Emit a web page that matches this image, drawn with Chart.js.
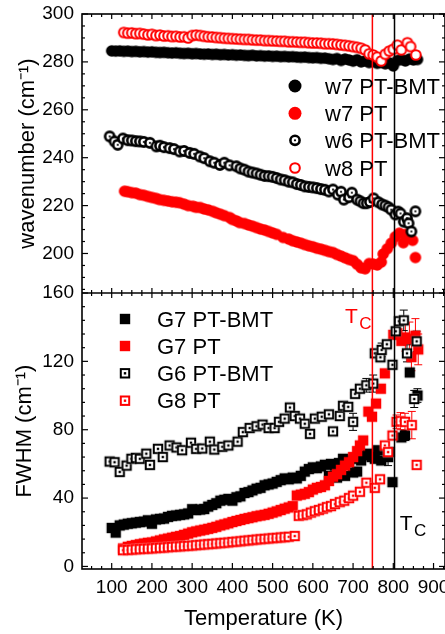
<!DOCTYPE html>
<html><head><meta charset="utf-8">
<script src="https://cdn.jsdelivr.net/npm/chart.js@4.4.1/dist/chart.umd.min.js"></script>
<style>html,body{margin:0;padding:0;background:#fff;overflow:hidden}canvas{display:block}</style>
</head><body>
<canvas id="c" width="445" height="634"></canvas>
<script>
// ---------------- data ----------------
const xTicks = [100,200,300,400,500,600,700,800,900];
const wTicks = [200,220,240,260,280,300];
const fTicks = [0,40,80,120,160];
const labelsTop = ['w7 PT-BMT','w7 PT','w6 PT-BMT','w8 PT'];
const labelsBottom = ['G7 PT-BMT','G7 PT','G6 PT-BMT','G8 PT'];
const tcPT = 748, tcBMT = 803;

const w7BmtT = [100,110,120,130,140,150,160,170,180,190,200,210,220,230,240,250,260,270,280,290,300,310,320,330,340,350,360,370,380,390,400,410,420,430,440,450,460,470,480,490,500,510,520,530,540,550,560,570,580,590,600,610,620,630,640,650,660,670,680,690,700,710,720,730,740,750,760,770,780,790,800,810,820,830,840,850,860];
const w7BmtV = [284.6,284.5,284.6,284.4,284.5,284.3,284.4,284.2,284.3,284.1,284.2,284.0,283.9,284.0,283.8,283.7,283.8,283.6,283.5,283.6,283.4,283.5,283.3,283.2,283.3,283.1,283.2,283.0,283.1,282.9,283.0,282.8,282.9,282.7,282.6,282.8,282.5,282.6,282.4,282.5,282.3,282.4,282.2,282.3,282.1,282.2,282.0,281.9,282.0,281.8,281.7,281.8,281.5,281.6,281.3,281.0,281.4,280.6,281.2,280.8,280.3,280.9,280.0,280.4,279.7,280.2,279.4,279.8,279.2,279.6,278.3,280.6,281.0,280.4,281.2,280.8,281.0];

const w7PtT = [132,140,150,160,170,180,190,200,210,219,230,240,250,260,269,280,290,302,310,320,330,340,351,360,370,380,393,400,410,418,430,440,450,460,470,480,490,500,510,526,540,550,560,570,580,590,600,610,620,630,640,650,660,670,680,690,700,710,720,730,740,750,760,770,775,785,795,805,815,825,830,838,848,855];
const w7PtV = [226.0,225.8,225.4,225.2,224.6,224.3,223.8,223.4,223.0,222.5,222.2,221.9,221.6,221.4,221.2,220.6,220.0,219.7,219.3,219.2,218.6,218.2,217.6,217.0,216.4,215.8,215.0,214.2,213.6,212.9,212.5,211.9,211.4,210.8,210.2,209.8,209.2,208.6,208.0,206.7,206.0,205.3,204.8,204.3,203.7,203.2,202.8,202.2,201.8,201.3,200.8,200.4,199.6,198.9,198.2,197.5,197.0,195.5,194.0,193.6,195.8,195.6,195.2,196.4,199.8,202.0,204.3,207.0,208.5,204.5,208.0,207.0,205.5,198.3];

const w6BmtT = [95,107,115,128,140,150,160,170,180,195,211,220,230,244,255,269,280,294,305,319,330,344,355,369,380,393,410,420,430,440,450,460,470,480,490,500,510,520,530,540,550,560,570,580,590,600,610,620,630,640,650,662,670,677,690,697,710,718,726,734,742,751,763,772,780,788,795,805,812,818,826,834,838,845,855];
const w6BmtV = [248.9,246.8,245.4,248.0,247.3,247.2,246.9,246.8,246.6,246.2,244.7,245.0,244.4,244.0,243.6,242.6,242.8,242.0,241.6,240.5,239.8,238.5,237.9,237.0,237.9,236.8,236.4,235.5,235.0,234.2,233.8,233.4,232.9,232.4,232.3,232.0,231.5,230.9,230.6,230.0,229.7,229.0,228.6,228.0,227.8,227.6,227.3,226.9,226.6,225.9,226.7,224.6,225.8,222.5,223.5,225.4,222.5,221.8,221.0,221.0,221.5,223.0,221.4,220.5,220.0,219.3,218.3,216.3,217.5,216.7,213.3,214.7,212.6,209.2,217.6];

const w8PtT = [130,140,150,160,170,180,190,200,210,220,230,240,250,260,270,280,290,300,310,320,330,340,350,360,370,380,390,400,410,420,430,440,450,460,470,480,490,500,510,520,530,540,550,560,570,580,590,600,610,620,630,640,650,660,670,680,690,700,710,720,730,740,750,760,770,780,790,800,810,820,835,843,856];
const w8PtV = [292.3,292.0,292.1,291.8,291.9,291.6,291.3,291.5,291.0,291.2,290.8,290.9,290.6,290.7,290.4,290.5,290.0,291.0,291.2,291.0,290.7,290.5,290.4,290.2,290.1,289.9,289.8,289.7,289.6,289.5,289.4,289.4,289.2,289.1,289.1,288.9,288.9,288.8,288.7,288.6,288.6,288.4,288.4,288.3,288.2,288.2,288.0,287.9,287.9,287.8,287.6,287.6,287.5,287.3,287.1,286.9,286.7,286.4,286.1,285.7,285.0,283.4,282.9,282.0,280.4,283.2,284.5,285.3,287.0,285.0,288.0,286.4,282.9];

const g7BmtT = [100,110,120,130,140,150,160,170,180,190,200,210,220,230,240,250,260,270,280,290,300,310,320,330,340,350,360,370,380,390,400,410,420,430,440,450,460,470,480,490,500,510,520,530,540,550,560,570,580,590,600,610,620,630,640,645,655,660,665,675,680,690,700,705,710,720,729,737,746,754,762,770,787,790,798,820,829,841,860];
const g7BmtV = [22.5,19.8,24.0,24.5,25.0,25.3,25.6,26.0,26.2,27.0,25.0,27.5,27.8,28.0,29.0,29.6,29.8,30.2,30.5,31.0,33.5,33.0,33.3,33.6,35.0,36.0,37.0,38.5,39.0,39.5,38.5,40.5,41.0,43.0,43.5,44.5,45.5,46.0,47.5,48.0,48.5,49.5,50.5,51.5,51.0,52.0,51.5,53.0,55.5,57.0,58.0,57.5,58.5,59.5,53.0,60.0,59.0,52.0,60.5,63.0,53.0,62.0,55.0,63.0,55.5,62.0,65.0,66.0,64.0,63.0,68.0,62.0,64.0,67.0,49.3,75.5,76.7,113.5,100.0];
const g7BmtErrT = [787,829,860];
const g7BmtErrV = [5,3,4];

const g7PtT = [128,140,150,160,170,180,190,200,210,220,230,240,250,260,270,280,290,300,310,320,330,340,350,360,370,380,390,400,410,420,430,440,450,460,470,480,490,500,510,520,530,540,550,560,570,580,590,600,610,620,630,640,650,660,670,680,690,700,710,717,725,738,747,757,769,779,800,810,820,830,840,845,855,862];
const g7PtV = [10.5,11.5,12.0,12.5,13.0,13.4,13.8,14.0,14.6,15.2,15.8,16.3,16.8,17.3,17.8,18.5,19.2,20.0,20.5,21.0,21.5,22.0,22.6,23.2,24.0,24.6,25.2,26.0,26.6,27.2,27.8,28.3,28.8,29.4,29.8,30.2,30.8,31.5,32.2,33.0,33.8,34.5,35.3,41.5,42.0,42.5,43.5,45.0,46.0,46.5,47.5,50.0,52.5,54.0,56.5,59.0,61.0,64.0,67.5,70.8,73.7,90.6,87.6,95.3,104.0,113.0,135.5,136.5,132.0,134.0,133.0,122.5,135.0,127.0];
const g7PtErrT = [830,840,845,855,862];
const g7PtErrV = [8,10,8,10,9];

const g6BmtT = [95,107,120,137,149,160,170,186,195,215,227,244,261,275,297,310,325,344,355,375,390,413,426,443,460,475,490,505,516,530,543,555,568,580,593,605,622,640,650,667,675,688,700,705,717,733,750,754,768,771,784,798,806,814,826,834,852,858];
const g6BmtV = [61.4,61.0,55.3,59.0,63.0,63.5,63.0,66.0,59.4,68.8,64.0,70.8,69.6,68.0,72.4,68.8,69.0,73.0,68.4,70.0,70.8,73.0,78.6,81.0,82.0,83.0,81.0,81.0,84.6,86.5,93.0,88.0,86.5,83.5,77.6,86.5,87.6,89.0,79.0,88.0,94.0,93.4,84.6,101.0,104.0,106.0,107.0,124.7,122.4,126.7,130.0,118.0,137.6,143.5,144.0,124.7,98.0,131.7];
const g6BmtErrT = [700,733,750,771,826,834,852,858];
const g6BmtErrV = [5,4,5,4,6,5,5,6];

const g8PtT = [128,140,150,160,170,180,190,200,210,220,230,240,250,260,270,280,290,300,310,320,330,340,350,360,370,380,390,400,410,420,430,440,450,460,470,480,490,500,510,520,530,540,555,565,575,585,595,605,615,625,635,645,655,667,678,690,700,717,733,754,767,779,787,798,808,818,829,846,858];
const g8PtV = [9.5,9.6,9.8,10.0,10.1,10.3,10.4,10.5,10.7,10.9,11.0,11.2,11.4,11.6,11.7,11.9,12.0,12.2,12.4,12.6,12.8,13.0,13.2,13.4,13.6,13.8,14.0,14.3,14.5,14.7,15.0,15.2,15.4,15.7,15.9,16.1,16.3,16.5,16.7,16.9,17.1,17.3,17.8,29.6,30.0,30.5,31.5,32.3,33.0,33.8,34.7,35.3,36.5,37.6,38.5,40.0,41.4,43.7,49.0,46.0,51.0,70.8,66.9,76.6,84.6,85.0,84.6,82.7,59.4];
const g8PtErrT = [808,818,829,846];
const g8PtErrV = [4,5,5,8];

// ---------------- drawing helpers ----------------
const FONT = "'Liberation Sans', Arial, Helvetica, sans-serif";
const RED = '#ff0000', BLK = '#000000';

function drawMarker(g, type, col, x, y, s) {
  g.save();
  if (type === 'disc') {
    g.fillStyle = col; g.beginPath(); g.arc(x, y, 5.8 * s, 0, 2 * Math.PI); g.fill();
  } else if (type === 'ring') {
    g.fillStyle = '#fff'; g.strokeStyle = col; g.lineWidth = 2.1;
    g.beginPath(); g.arc(x, y, 4.8 * s, 0, 2 * Math.PI); g.fill(); g.stroke();
  } else if (type === 'ringdot') {
    g.fillStyle = '#fff'; g.strokeStyle = col; g.lineWidth = 2.6;
    g.beginPath(); g.arc(x, y, 4.6 * s, 0, 2 * Math.PI); g.fill(); g.stroke();
    g.fillStyle = col; g.beginPath(); g.arc(x, y, 1.1, 0, 2 * Math.PI); g.fill();
  } else if (type === 'square') {
    const h = 5.2 * s; g.fillStyle = col; g.fillRect(x - h, y - h, 2 * h, 2 * h);
  } else if (type === 'sqdot') {
    const h = 5.2 * s; g.fillStyle = '#fff'; g.fillRect(x - h, y - h, 2 * h, 2 * h);
    g.strokeStyle = col; g.lineWidth = 2; g.strokeRect(x - h + 1, y - h + 1, 2 * h - 2, 2 * h - 2);
    g.fillStyle = col; g.fillRect(x - 1.2, y - 1.2, 2.4, 2.4);
  }
  g.restore();
}
function markerImage(type, col) {
  const c = document.createElement('canvas'); c.width = 16; c.height = 16;
  drawMarker(c.getContext('2d'), type, col, 8, 8, 1);
  return c;
}
function pts(T, V, eT, eV) {
  return T.map((t, i) => {
    const k = eT ? eT.indexOf(t) : -1;
    return {x: t, y: V[i], e: k >= 0 ? eV[k] : 0};
  });
}

const topStyles = [['disc', BLK], ['disc', RED], ['ringdot', BLK], ['ring', RED]];
const botStyles = [['square', BLK], ['square', RED], ['sqdot', BLK], ['sqdot', RED]];

function ds(label, data, axis, st, order) {
  return {label, data, yAxisID: axis, pointStyle: markerImage(st[0], st[1]), pointRadius: 5,
          borderColor: st[1], backgroundColor: st[1], order, errColor: st[1]};
}

const datasets = [
  ds(labelsTop[0], pts(w7BmtT, w7BmtV), 'yT', topStyles[0], 7),
  ds(labelsTop[1], pts(w7PtT, w7PtV), 'yT', topStyles[1], 6),
  ds(labelsTop[2], pts(w6BmtT, w6BmtV), 'yT', topStyles[2], 5),
  ds(labelsTop[3], pts(w8PtT, w8PtV), 'yT', topStyles[3], 4),
  ds(labelsBottom[0], pts(g7BmtT, g7BmtV, g7BmtErrT, g7BmtErrV), 'yB', botStyles[0], 3),
  ds(labelsBottom[1], pts(g7PtT, g7PtV, g7PtErrT, g7PtErrV), 'yB', botStyles[1], 2),
  ds(labelsBottom[2], pts(g6BmtT, g6BmtV, g6BmtErrT, g6BmtErrV), 'yB', botStyles[2], 1),
  ds(labelsBottom[3], pts(g8PtT, g8PtV, g8PtErrT, g8PtErrV), 'yB', botStyles[3], 0)
];

function seg(ctx, x1, y1, x2, y2) { ctx.beginPath(); ctx.moveTo(x1, y1); ctx.lineTo(x2, y2); ctx.stroke(); }

const deco = {
  id: 'deco',
  beforeDatasetsDraw(chart) {
    const ctx = chart.ctx;
    ctx.save(); ctx.lineWidth = 1;
    chart.data.datasets.forEach(d => {
      const ys = chart.scales[d.yAxisID], xs = chart.scales.x;
      ctx.strokeStyle = d.errColor;
      d.data.forEach(p => {
        if (!p.e) return;
        const px = xs.getPixelForValue(p.x);
        const y1 = ys.getPixelForValue(p.y + p.e), y2 = ys.getPixelForValue(p.y - p.e);
        seg(ctx, px, y1, px, y2); seg(ctx, px - 4, y1, px + 4, y1); seg(ctx, px - 4, y2, px + 4, y2);
      });
    });
    ctx.restore();
  },
  afterDatasetsDraw(chart) {
    const {ctx, chartArea: a, scales} = chart;
    const xs = scales.x, yT = scales.yT, yB = scales.yB;
    ctx.save();
    ctx.lineWidth = 1.5;
    [[tcPT, RED], [tcBMT, BLK]].forEach(([t, c]) => {
      const px = xs.getPixelForValue(t); ctx.strokeStyle = c; seg(ctx, px, a.top, px, a.bottom);
    });
    ctx.strokeStyle = BLK; ctx.lineWidth = 1.6;
    ctx.strokeRect(a.left, a.top, a.right - a.left, a.bottom - a.top);
    const mid = yB.top;
    seg(ctx, a.left, mid, a.right, mid);
    ctx.lineWidth = 1.2;
    for (let t = 25; t <= 950; t += 25) {
      const px = xs.getPixelForValue(t);
      if (px <= a.left + 1 || px >= a.right - 1) continue;
      const major = xTicks.includes(t);
      seg(ctx, px, a.top, px, a.top + (major ? 5 : 3));
      seg(ctx, px, mid - (major ? 5 : 3), px, mid + (major ? 5 : 3));
      seg(ctx, px, a.bottom, px, a.bottom - (major ? 6 : 3));
    }
    const yt = (s, from, to, step, majors) => {
      for (let v = from; v <= to + 1e-6; v += step) {
        const py = s.getPixelForValue(v);
        if (py < s.top - 0.5 || py > s.bottom + 0.5) continue;
        const L = majors.includes(v) ? 6 : 3;
        seg(ctx, a.left, py, a.left + L, py);
        seg(ctx, a.right, py, a.right - L, py);
      }
    };
    yt(yT, 185, 300, 5, wTicks);
    yt(yB, 0, 160, 8, fTicks);

    // legends
    ctx.textAlign = 'left'; ctx.textBaseline = 'alphabetic';
    ctx.font = '22px ' + FONT;
    const topRows = [86, 113.3, 140.3, 168];
    labelsTop.forEach((lab, i) => {
      const st = topStyles[i];
      drawMarker(ctx, st[0], st[1], 295, topRows[i], st[0] === 'disc' ? 1.12 : 1.0);
      ctx.fillStyle = BLK; ctx.fillText(lab, 325, topRows[i] + 8);
    });
    const botRows = [319, 346, 373.3, 400.7];
    labelsBottom.forEach((lab, i) => {
      const st = botStyles[i];
      drawMarker(ctx, st[0], st[1], 125, botRows[i], 1);
      ctx.fillStyle = BLK; ctx.fillText(lab, 157, botRows[i] + 7.6);
    });
    // Tc labels
    const tc = (col, t, v) => {
      const px = xs.getPixelForValue(t), py = yB.getPixelForValue(v);
      ctx.fillStyle = col; ctx.font = '21px ' + FONT; ctx.fillText('T', px, py);
      const w = ctx.measureText('T').width;
      ctx.font = '17px ' + FONT; ctx.fillText('C', px + w + 1.5, py + 6);
    };
    tc(RED, 680, 142.3);
    tc(BLK, 816, 21.5);
    ctx.restore();
  }
};

const tickFont = {family: FONT, size: 19};
const titleFont = {family: FONT, size: 22};

new Chart(document.getElementById('c'), {
  type: 'scatter',
  data: {datasets},
  plugins: [deco],
  options: {
    responsive: false, animation: false, events: [],
    layout: {padding: {top: 14, left: 0, right: 0, bottom: 0}, autoPadding: false},
    plugins: {legend: {display: false}, tooltip: {enabled: false}},
    scales: {
      x: {
        type: 'linear', position: 'bottom', min: 26.2, max: 928.5,
        grid: {display: false, drawTicks: false}, border: {display: false},
        ticks: {color: BLK, font: tickFont, padding: 7, autoSkip: false, maxRotation: 0},
        title: {display: true, text: 'Temperature (K)', color: BLK, font: titleFont, padding: {top: 0, bottom: 2}},
        afterBuildTicks: s => { s.ticks = xTicks.map(v => ({value: v})); },
        afterFit: s => { s.height = 65; s.paddingLeft = 0; s.paddingRight = 0; }
      },
      yB: {
        type: 'linear', position: 'left', stack: 'panels', stackWeight: 276, min: -1.5, max: 160,
        grid: {display: false, drawTicks: false}, border: {display: false},
        ticks: {color: BLK, font: tickFont, padding: 8},
        title: {display: true, text: 'FWHM (cm⁻¹)', color: BLK, font: titleFont, padding: {top: 12, bottom: 0}},
        afterBuildTicks: s => { s.ticks = fTicks.map(v => ({value: v})); },
        afterFit: s => { s.width = 82; s.paddingTop = 0; s.paddingBottom = 0; }
      },
      yT: {
        type: 'linear', position: 'left', stack: 'panels', stackWeight: 279, min: 183.5, max: 300,
        grid: {display: false, drawTicks: false}, border: {display: false},
        ticks: {color: BLK, font: tickFont, padding: 8},
        title: {display: true, text: 'wavenumber (cm⁻¹)', color: BLK, font: titleFont, padding: {top: 15, bottom: 0}},
        afterBuildTicks: s => { s.ticks = wTicks.map(v => ({value: v})); },
        afterFit: s => { s.width = 82; s.paddingTop = 0; s.paddingBottom = 0; }
      }
    }
  }
});
</script>
</body></html>
